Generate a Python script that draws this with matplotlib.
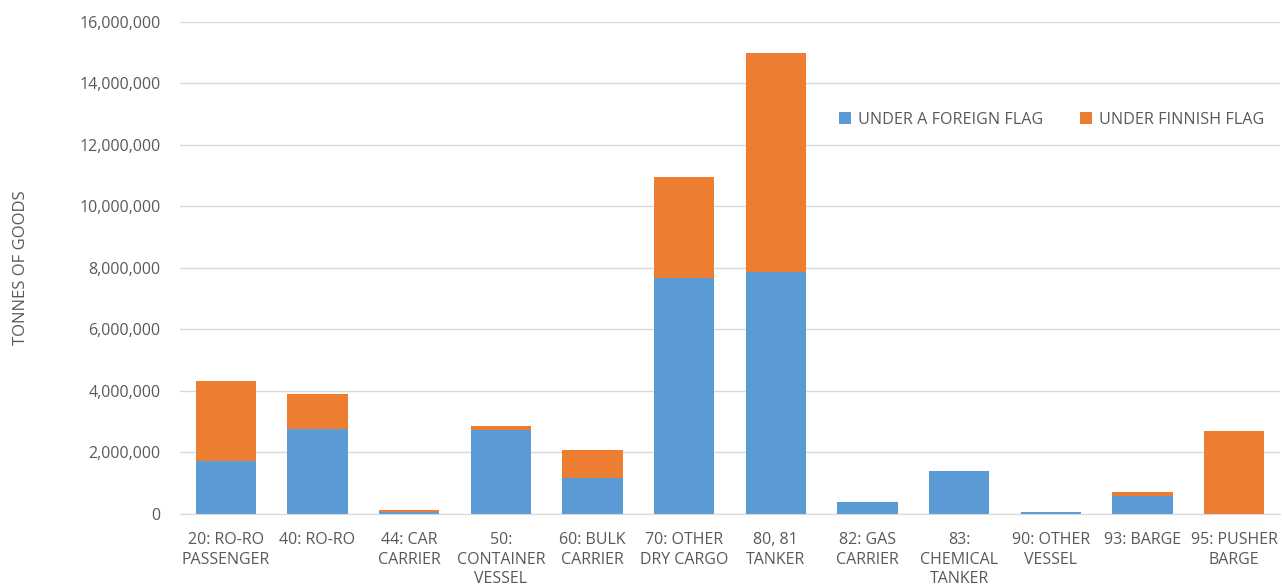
import matplotlib
matplotlib.use('Agg')
import matplotlib.pyplot as plt
from matplotlib.ticker import FuncFormatter

categories = ["20: RO-RO\nPASSENGER", "40: RO-RO", "44: CAR\nCARRIER",
              "50:\nCONTAINER\nVESSEL", "60: BULK\nCARRIER", "70: OTHER\nDRY CARGO",
              "80, 81\nTANKER", "82: GAS\nCARRIER", "83:\nCHEMICAL\nTANKER",
              "90: OTHER\nVESSEL", "93: BARGE", "95: PUSHER\nBARGE"]
foreign_flag = [1720000, 2760000, 80000, 2730000, 1180000, 7670000,
                7870000, 380000, 1410000, 60000, 590000, 0]
finnish_flag = [2610000, 1140000, 40000, 120000, 910000, 3290000,
                7120000, 0, 0, 0, 120000, 2690000]

blue = "#5B9BD5"
orange = "#ED7D31"
grey = "#595959"

plt.rcParams['font.family'] = ['Open Sans', 'DejaVu Sans']

fig = plt.figure(figsize=(12.82, 5.85), dpi=100)
ax = fig.add_axes([0.1404, 0.1214, 0.858, 0.841])

x = list(range(len(categories)))
ax.bar(x, foreign_flag, width=0.66, color=blue, label="UNDER A FOREIGN FLAG", zorder=2)
ax.bar(x, finnish_flag, width=0.66, bottom=foreign_flag, color=orange,
       label="UNDER FINNISH FLAG", zorder=2)

ax.set_xlim(-0.5, len(categories) - 0.5)
ax.set_ylim(0, 16000000)
ax.set_yticks(range(0, 16000001, 2000000))
ax.yaxis.set_major_formatter(FuncFormatter(lambda v, p: f"{int(v):,}"))
ax.set_xticks(x)
ax.set_xticklabels(categories, fontsize=11.5, color=grey, linespacing=1.3, va='top')
ax.tick_params(axis='y', labelsize=11.5, labelcolor=grey, length=0, pad=14)
ax.tick_params(axis='x', length=0, pad=13)

ax.grid(axis='y', color="#D9D9D9", linewidth=1, zorder=0)
for s in ["top", "right", "left"]:
    ax.spines[s].set_visible(False)
ax.spines["bottom"].set_color("#D9D9D9")

fig.text(0.016, 0.542, "TONNES OF GOODS", rotation=90, ha='center', va='center',
         fontsize=12, color=grey)

ax.legend(loc='upper left', bbox_to_anchor=(0.589, 0.84), ncol=2, frameon=False,
          fontsize=11.6, labelcolor=grey, handlelength=0.75, handleheight=0.75,
          handletextpad=0.4, columnspacing=2.3, borderpad=0.2)

fig.savefig("out.png", dpi=100)
